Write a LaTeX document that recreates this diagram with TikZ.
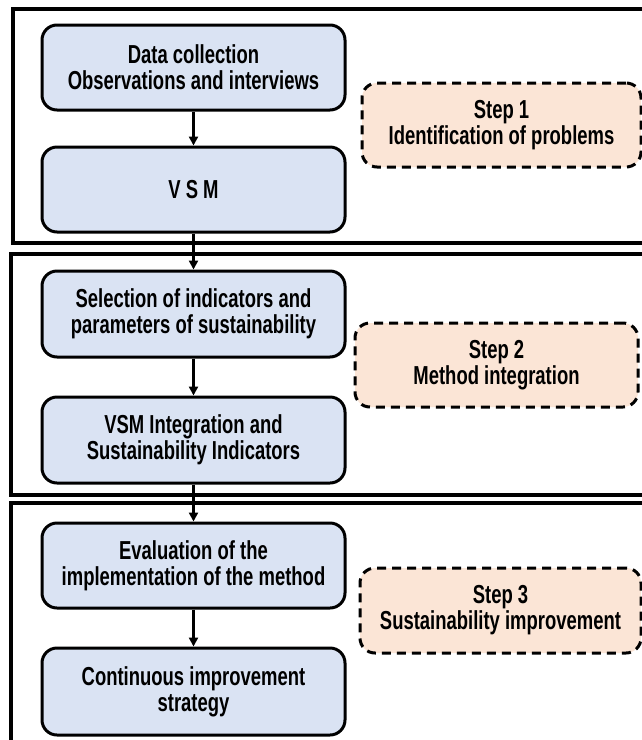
\documentclass[tikz,border=0pt]{standalone}
\usepackage{fontspec}
\newfontfamily\agency[FakeStretch=0.71]{Liberation Sans}
\usetikzlibrary{arrows.meta}
\definecolor{boxblue}{HTML}{DAE3F3}
\definecolor{boxorange}{HTML}{FBE5D6}
\tikzset{
  stagebox/.style={draw=black, line width=3pt, rounded corners=15pt, fill=boxblue,
    minimum width=303pt, align=center, inner sep=2pt,
    font=\agency\bfseries\fontsize{26}{26}\selectfont},
  stepbox/.style={draw=black, line width=3pt, dash pattern=on 9pt off 6pt,
    rounded corners=15pt, fill=boxorange, align=center, inner sep=2pt,
    font=\agency\bfseries\fontsize{26}{26}\selectfont},
  framebox/.style={draw=black, line width=3.2pt},
  flow/.style={draw=black, line width=2.4pt, -{Triangle[length=9pt,width=9pt]}}
}
\begin{document}
\begin{tikzpicture}[x=1pt,y=-1pt]
\useasboundingbox (0,0) rectangle (641,740);
\fill[white] (0,0) rectangle (641,740);
% frames
\draw[framebox] (13,9) rectangle (700,243);
\draw[framebox] (11,254) rectangle (700,495);
\draw[framebox] (11,503) rectangle (700,800);
% stage boxes
\node[stagebox, minimum height=85pt] (b1) at (193.5,67.5) {Data collection\\Observations and interviews};
\node[stagebox, minimum height=85pt] (b2) at (193.5,189.5) {V S M};
\node[stagebox, minimum height=86pt] (b3) at (193.5,314) {Selection of indicators and\\parameters of sustainability};
\node[stagebox, minimum height=86pt] (b4) at (193.5,440) {VSM Integration and\\Sustainability Indicators};
\node[stagebox, minimum height=85pt] (b5) at (193.5,565.5) {Evaluation of the\\implementation of the method};
\node[stagebox, minimum height=87pt] (b6) at (193.5,691.5) {Continuous improvement\\strategy};
% step boxes
\node[stepbox, minimum width=279pt, minimum height=84pt] (s1) at (501.5,125) {Step 1\\Identification of problems};
\node[stepbox, minimum width=283pt, minimum height=84pt] (s2) at (496.5,365) {Step 2\\Method integration};
\node[stepbox, minimum width=281pt, minimum height=85pt] (s3) at (500.5,610.5) {Step 3\\Sustainability improvement};
% arrows
\draw[flow] (b1) -- (b2);
\draw[flow] (b2) -- (b3);
\draw[flow] (b3) -- (b4);
\draw[flow] (b4) -- (b5);
\draw[flow] (b5) -- (b6);
\end{tikzpicture}
\end{document}
